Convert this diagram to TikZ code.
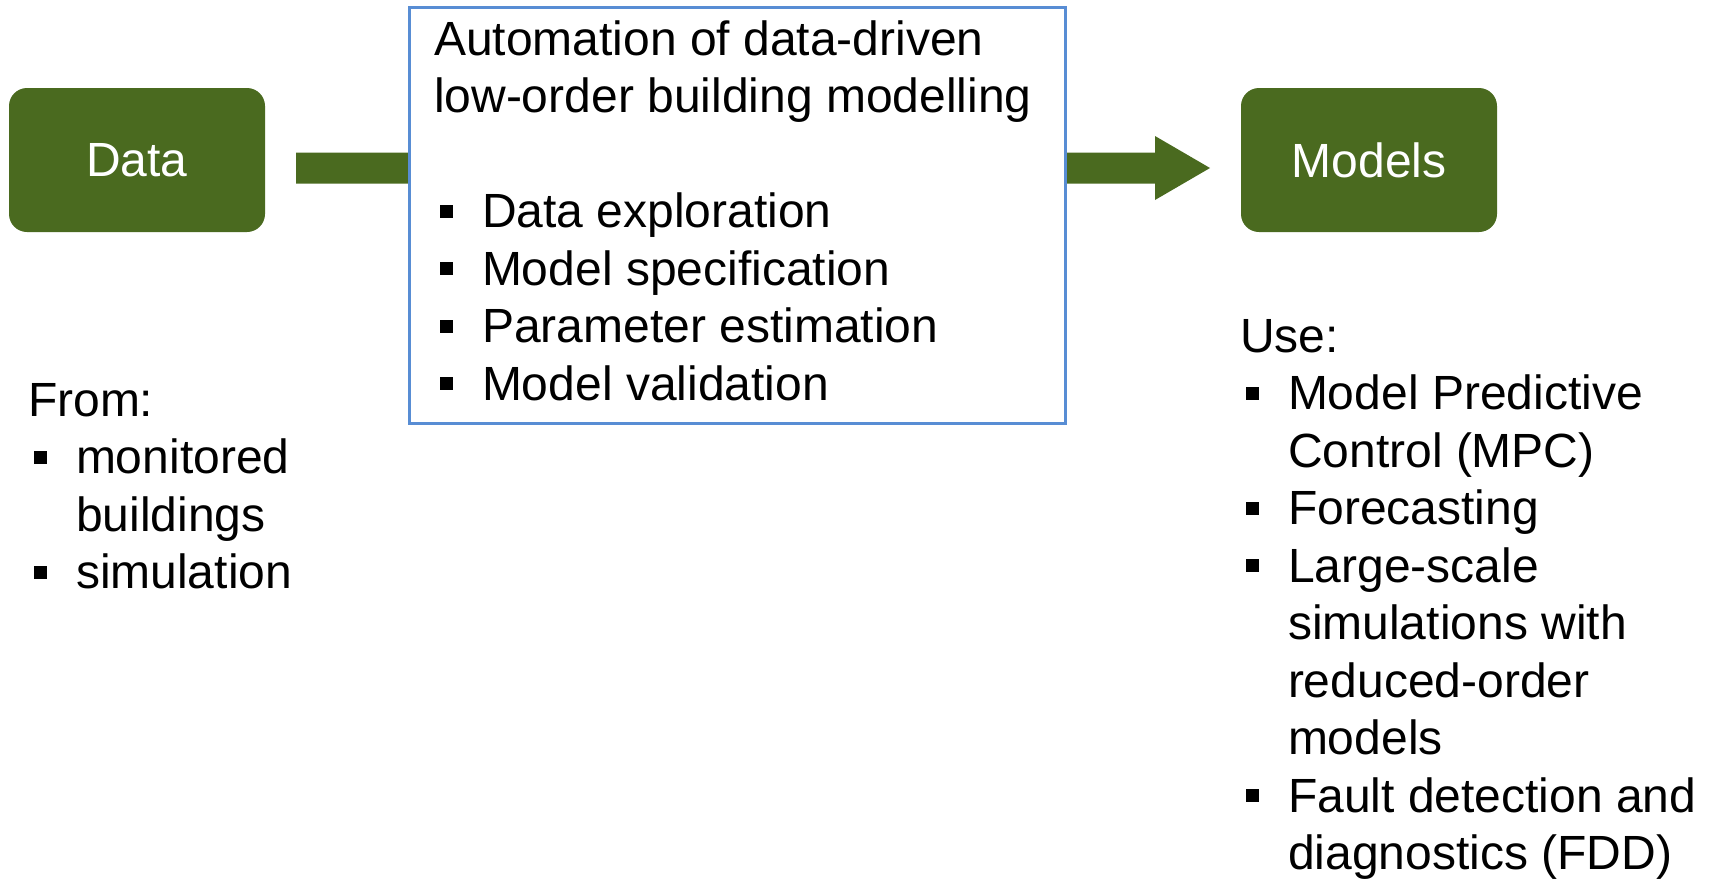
\documentclass[tikz,border=0pt]{standalone}
\usepackage{fontspec}
\setmainfont{Liberation Sans}
\usetikzlibrary{calc}
\definecolor{leaf}{RGB}{74,106,31}
\definecolor{frameblue}{RGB}{88,141,212}
% square list bullet followed by the indent of the item text
\newcommand\sqbul{\makebox[48pt][l]{\hspace{6pt}\rule[10pt]{13pt}{13pt}}}
% indent for wrapped item lines
\newcommand\cont{\hspace{48pt}}
\begin{document}
\begin{tikzpicture}[x=1pt,y=-1pt,
  every node/.style={inner sep=0pt, outer sep=0pt},
  greenbox/.style={fill=leaf, rounded corners=18pt, minimum width=256pt,
    minimum height=144pt, text=white, font=\fontsize{48}{57}\selectfont},
  procbox/.style={draw=frameblue, line width=3pt, fill=white,
    minimum width=655.5pt, minimum height=416pt},
  listtext/.style={anchor=base west, font=\fontsize{48}{57.5}\selectfont},
  flowarrow/.style={fill=leaf}]
\useasboundingbox (0,0) rectangle (1709,879);

% source and result blocks
\node[greenbox] (data) at (137,160) {Data};
\node[greenbox] (models) at (1369,160) {Models};

% block arrow running from Data to Models (its middle is hidden by the process box)
\coordinate (a0) at ([xshift=31pt,yshift=-8pt]data.east);
\coordinate (a1) at ([xshift=-31pt,yshift=-8pt]models.west);
\fill[flowarrow] ($(a0)+(0,-15.5)$) -- ($(a1)+(-55,-15.5)$) -- ($(a1)+(-55,-32)$)
  -- (a1) -- ($(a1)+(-55,32)$) -- ($(a1)+(-55,15.5)$) -- ($(a0)+(0,15.5)$) -- cycle;

% process box
\node[procbox] (proc) at (737.25,215.5) {};
\node[listtext] (proctext) at (434,55) {\begin{tabular}[t]{@{}l@{}}
Automation of data-driven\\
low-order building modelling\\
\\
\sqbul Data exploration\\
\sqbul Model specification\\
\sqbul Parameter estimation\\
\sqbul Model validation
\end{tabular}};

% data sources
\node[listtext] (fromtext) at (28,416) {\begin{tabular}[t]{@{}l@{}}
From:\\
\sqbul monitored\\
\cont buildings\\
\sqbul simulation
\end{tabular}};

% uses of the models
\node[listtext] (usetext) at (1240,352) {\begin{tabular}[t]{@{}l@{}}
Use:\\
\sqbul Model Predictive\\
\cont Control (MPC)\\
\sqbul Forecasting\\
\sqbul Large-scale\\
\cont simulations with\\
\cont reduced-order\\
\cont models\\
\sqbul Fault detection and\\
\cont diagnostics (FDD)
\end{tabular}};
\end{tikzpicture}
\end{document}
